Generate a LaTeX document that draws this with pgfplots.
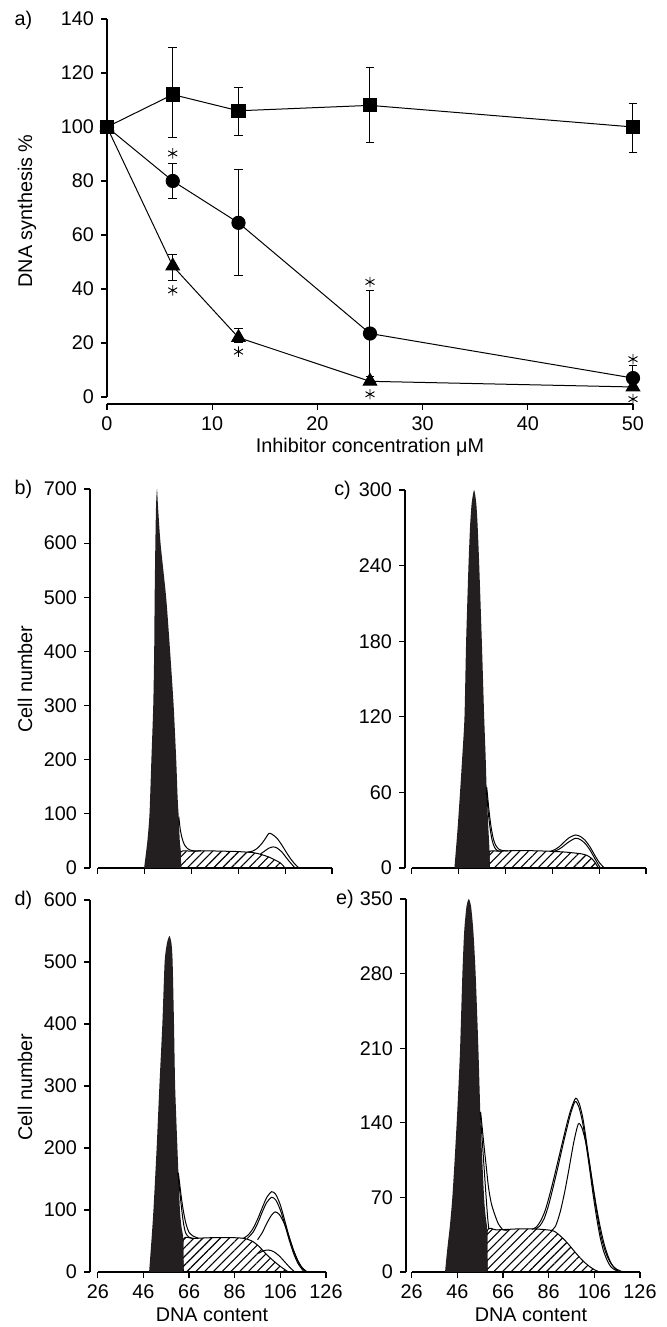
\documentclass[border=0pt]{standalone}
\usepackage{fontspec}
\setmainfont{Liberation Sans}
\usepackage{pgfplots}
\pgfplotsset{compat=1.18}
\usetikzlibrary{patterns.meta}
\newcommand\ff{\fontsize{9.9pt}{11.8pt}\selectfont}
\definecolor{ink}{RGB}{35,31,32}
\pgfplotsset{
  base/.style={
    scale only axis, anchor=south west, clip=false,
    axis x line*=bottom, axis y line*=left,
    tick align=outside, major tick length=3pt,
    every tick/.style={line width=0.6pt, black},
    axis line style={line width=0.6pt},
    tick label style={font=\ff},
    /pgf/number format/assume math mode=true,
    every axis plot/.append style={black, line width=0.5pt},
  },
  hist/.style={base, ymin=0, xmax=126, xtick={26,46,66,86,106,126}},
  blk/.style={fill=ink, draw=none, smooth, tension=0.4},
  hat/.style={pattern={Lines[angle=45,distance=3.1pt,line width=0.55pt]}, draw=black, line width=0.5pt, smooth, tension=0.4},
  crv/.style={no marks, smooth, tension=0.45, line width=0.5pt},
}
\begin{document}
\begin{tikzpicture}
\useasboundingbox (0,0) rectangle (333pt,663.5pt);
% ---------------- panel a
\begin{axis}[base, at={(53.5pt,461.5pt)}, width=263pt, height=192.5pt,
  xmin=0, xmax=50, ymin=-2.6, ymax=140,
  xtick={0,10,...,50}, ytick={0,20,...,140},
  y axis line style={shorten <=3.5pt}]
\addplot[mark=triangle*, mark size=3.9pt, mark options={solid, fill=black},
  error bars/.cd, y dir=both, y explicit, error bar style={line width=0.5pt},
  error mark options={rotate=90, mark size=2.2pt, line width=0.5pt}]
  coordinates {(0,100) (6.25,48.5) += (0,4.4) -= (0,5.5) (12.5,22) += (0,3.3) -= (0,1.9) (25,5.8) (50,3.7)};
\addplot[mark=*, mark size=3.3pt, mark options={solid, fill=black},
  error bars/.cd, y dir=both, y explicit, error bar style={line width=0.5pt},
  error mark options={rotate=90, mark size=2.2pt, line width=0.5pt}]
  coordinates {(0,100) (6.25,80) +- (0,6.5) (12.5,64.5) +- (0,19.6) (25,23.5) +- (0,16) (50,7) += (0,4.5) -= (0,0)};
\addplot[mark=square*, mark size=3.3pt, mark options={solid, fill=black},
  error bars/.cd, y dir=both, y explicit, error bar style={line width=0.5pt},
  error mark options={rotate=90, mark size=2.2pt, line width=0.5pt}]
  coordinates {(0,100) (6.25,112) += (0,17.3) -= (0,16) (12.5,106) += (0,8.5) -= (0,9) (25,108) += (0,14) -= (0,13.6) (50,100) += (0,8.7) -= (0,9.6)};
\addplot[only marks, mark=asterisk, mark size=2.6pt, line width=0.45pt]
  coordinates {(6.25,90.2) (6.25,39.5) (12.5,16.8) (25,42.6) (25,1.0) (50,14) (50,-0.8)};
\end{axis}
% ---------------- panel b
\begin{axis}[hist, at={(45pt,229.5pt)}, width=121pt, height=189.5pt,
  xmin=22.7, ymax=700, ytick={0,100,...,700}, xticklabels={},
  x axis line style={shorten <=3.85pt}]
\addplot[hat] coordinates {(61.5,0) (61.5,30) (66,31) (70,31.5) (75,31.5) (80,31) (85,30.5) (89,29.5) (92,28.5) (94,27) (96.5,24) (99.5,19.5) (102,14) (103.8,9.8) (105,5) (105.9,0)} \closedcycle;
\addplot[blk] coordinates {(45.8,0) (47.2,50) (48.1,100) (48.9,200) (49.7,300) (50.1,400) (50.3,500) (50.6,600) (50.9,670) (51.3,700) (51.7,670) (52.8,600) (55.2,500) (56.9,400) (58.4,300) (59.5,200) (60.1,130) (60.5,100) (60.8,70) (61.1,45) (61.5,30) (61.5,0)} \closedcycle;
\addplot[crv] coordinates {(60.6,95) (61.2,72) (62,55) (63,43) (64.3,36) (65.5,33) (67,31.7) (70,31.6)};
\addplot[crv] coordinates {(90,29.6) (92,31) (94,36) (96,45) (97.5,54) (99.1,63.9) (100.5,62) (102.5,55) (104.5,43) (106.5,29) (108.5,16) (110,8) (111,3.5) (112,0)};
\addplot[crv] coordinates {(95.5,26) (97,30.5) (99,36.5) (100.9,39) (102.5,37) (104.5,30) (106.5,19) (108,11) (109.2,5) (110.2,0)};
\end{axis}
% ---------------- panel c
\begin{axis}[hist, at={(202.5pt,229.5pt)}, width=120.5pt, height=189pt,
  xmin=23.1, ymax=300, ytick={0,60,...,300}, xticklabels={},
  x axis line style={shorten <=3.35pt}]
\addplot[hat] coordinates {(59.2,0) (59.2,13) (63,13.3) (68,13.7) (74,13.8) (80,13.6) (86,13.2) (91,12.7) (95,12) (98.5,11.2) (100.8,10) (102.5,8) (104,5) (105.7,0)} \closedcycle;
\addplot[blk] coordinates {(44.2,0) (45.5,30) (46.6,60) (47.6,90) (48.5,120) (49.2,180) (50.2,240) (50.9,272) (51.6,290) (52.6,300) (53.5,290) (54.1,272) (54.8,240) (55.9,180) (56.9,120) (57.5,90) (58,60) (58.6,35) (59.2,13) (59.2,0)} \closedcycle;
\addplot[crv] coordinates {(57.8,64) (58.6,45) (59.4,32) (60.3,22) (61.3,16.5) (62.5,13.8) (64,13.3)};
\addplot[crv] coordinates {(58,64) (59,45) (59.9,32) (60.9,22.5) (62,17.5) (63.3,14.8) (65,13.8) (67,13.6)};
\addplot[crv] coordinates {(85,13.2) (87,14.5) (89,17) (91,20.5) (93,23.8) (95.8,26.2) (98,25) (100,22) (102,17) (104,10.5) (106,4.5) (108.2,0)};
\addplot[crv] coordinates {(86.5,13) (88.5,14.5) (90.5,17) (92.5,20) (95.8,23.6) (98,22.5) (100,19.5) (102,14.5) (104,8) (106.5,0)};
\end{axis}
% ---------------- panel d
\begin{axis}[hist, at={(45pt,27.5pt)}, width=118pt, height=186pt,
  xmin=22.6, ymax=600, ytick={0,100,...,600},
  x axis line style={shorten <=3.85pt}]
\addplot[hat] coordinates {(63.5,0) (63.5,53) (68,54) (73,55) (78,55.5) (83,55.5) (88,55) (91,53.5) (94,49) (97,40) (100,28) (103,18) (106,9) (109.5,0)} \closedcycle;
\addplot[blk] coordinates {(48.5,0) (49.5,50) (50.4,100) (51.8,200) (53,300) (54.3,400) (55.3,500) (56.3,530) (57.4,542) (58.3,530) (58.8,500) (59.4,400) (59.9,300) (60.9,200) (62,100) (62.8,70) (63.5,53) (63.5,0)} \closedcycle;
\addplot[crv] coordinates {(61.1,160) (62.5,110) (63.5,80) (64.5,63) (66,56) (68,54)};
\addplot[crv] coordinates {(61.3,160) (63,110) (64.5,80) (66,64) (68,57.5) (70,54.8)};
\addplot[crv] coordinates {(96.4,30) (98.5,34) (100.7,35.5) (103,33) (105.5,26) (108,16) (110.5,6) (112.4,0)};
\addplot[crv] coordinates {(89.7,54) (92,60) (94,70) (96,85) (98,103) (100,120) (102.2,129.5) (104,125) (106,108) (108,82) (110,55) (112,32) (114,15) (116,5) (118,0)};
\addplot[crv] coordinates {(91.5,54) (94,64) (96,78) (98,96) (100,112) (102.2,120.5) (104,116) (106,100) (108,76) (110,50) (112,28) (114,12) (116.5,0)};
\addplot[crv] coordinates {(96,52) (98,63) (100,78) (102,91) (103.7,97) (105.5,93) (107.5,80) (109.5,60) (111.5,38) (113.5,20) (115.5,7) (117.5,0)};
\end{axis}
% ---------------- panel e
\begin{axis}[hist, at={(203pt,27.5pt)}, width=117pt, height=186.5pt,
  xmin=23.5, ymax=350, ytick={0,70,...,350},
  x axis line style={shorten <=2.85pt}]
\addplot[hat] coordinates {(59.1,0) (59.1,39) (63,39.5) (68,40) (73,40.5) (78,40.5) (83,40) (87.3,39) (89,37.5) (91,34) (93,30) (95.3,24.5) (98,17.5) (101.2,10) (104,5) (106,2.2) (108.2,0)} \closedcycle;
\addplot[blk] coordinates {(40.6,0) (41.5,20) (42.8,45) (43.8,70) (44.8,105) (45.7,140) (46.5,175) (47.2,210) (48.2,280) (49,320) (50,343) (51,350) (52,343) (53,320) (54,280) (55.2,210) (56.2,140) (57.7,70) (58.5,50) (59.1,39) (59.1,0)} \closedcycle;
\addplot[crv] coordinates {(56,150) (57,120) (57.8,95) (58.6,70) (59.3,50) (59.8,40)};
\addplot[crv] coordinates {(56.2,150) (57.6,120) (58.6,100) (59.6,80) (60.8,65) (62.2,55) (64,45) (66.1,39.5) (68,39.3)};
\addplot[crv] coordinates {(78.6,40) (80.5,42) (82.5,48) (84.5,58) (86.5,73) (88.5,90) (90.5,108) (92.5,126) (94.2,141) (95.8,153) (97.8,163) (99.4,158) (101,144) (102.5,123) (104.1,99) (105.7,75) (107.3,53) (108.8,35) (110.4,22) (112,13) (113.6,7) (115.5,3) (118.5,0)};
\addplot[crv] coordinates {(80,40) (82,43) (84,50) (86,63) (88,80) (90,98) (92,117) (94,135) (95.8,150) (97.6,160) (99.2,155) (100.8,141) (102.3,121) (103.9,97) (105.5,72) (107,51) (108.5,33) (110,20) (111.6,11) (113.2,5) (115,2) (117.2,0)};
\addplot[crv] coordinates {(87.3,39) (89,43) (91,56) (93,75) (95,98) (97,122) (99,139) (100.6,135) (102.2,122) (103.8,103) (105.4,81) (107,60) (108.6,42) (110.2,27) (111.8,16) (113.4,8) (115.2,3) (117.2,0)};
\end{axis}
% ---------------- labels
\begin{scope}[every node/.style={font=\ff, inner sep=0pt}]
\node at (11.75pt,653.5pt) {a)};
\node[rotate=90] at (13.5pt,558pt) {DNA synthesis \%};
\node at (185pt,440pt) {Inhibitor concentration μM};
\node at (11.75pt,419pt) {b)};
\node at (171.25pt,418.5pt) {c)};
\node at (11.75pt,213.5pt) {d)};
\node at (172.5pt,214pt) {e)};
\node[rotate=90] at (12.5pt,324pt) {Cell number};
\node[rotate=90] at (12.5pt,120pt) {Cell number};
\node at (106pt,6pt) {DNA content};
\node at (265.5pt,6pt) {DNA content};
\end{scope}
\end{tikzpicture}
\end{document}
